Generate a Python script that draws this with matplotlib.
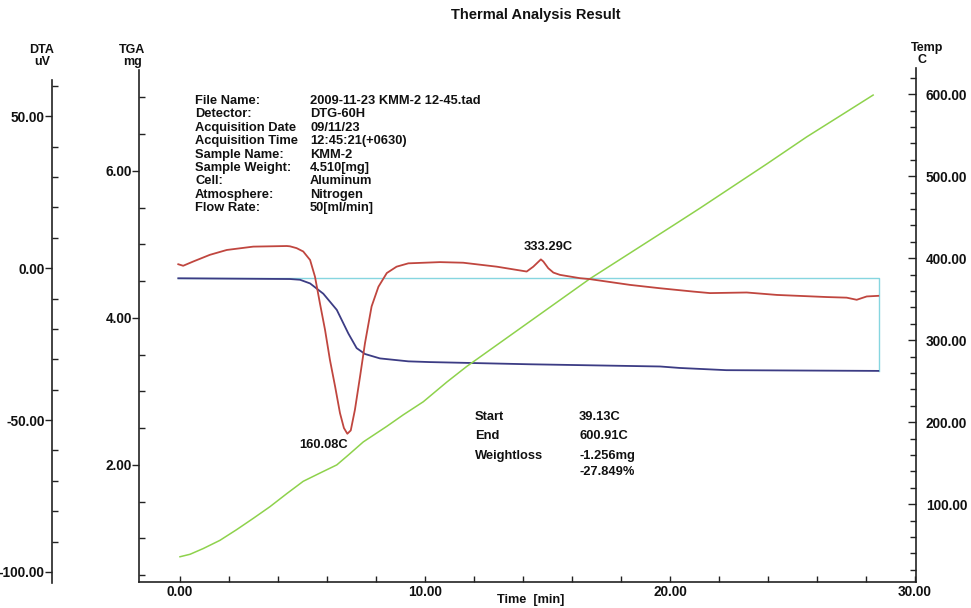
import matplotlib
matplotlib.use('Agg')
import matplotlib.pyplot as plt
from matplotlib.ticker import MultipleLocator, FormatStrFormatter

plt.rcParams['font.family'] = ['Liberation Sans', 'DejaVu Sans']

# ---------------- data ----------------
dta_time = [-0.07, 0.13, 0.54, 1.22, 1.91, 2.99, 4.36, 4.49, 4.76, 5.03, 5.31, 5.51, 5.71,
            5.92, 6.12, 6.33, 6.53, 6.69, 6.83, 6.97, 7.14, 7.35, 7.55, 7.82, 8.10,
            8.44, 8.84, 9.32, 10.61, 11.56, 12.93, 14.15, 14.42, 14.73, 14.83, 15.03,
            15.24, 15.51, 16.33, 16.73, 18.37, 19.59, 20.95, 21.63, 23.13, 24.36,
            26.40, 27.21, 27.62, 28.03, 28.50]
dta_uv = [1.3, 0.8, 2.2, 4.4, 6.0, 7.1, 7.3, 7.2, 6.6, 5.5, 2.7, -2.8, -11.5,
          -20.3, -30.2, -38.9, -47.7, -52.6, -54.5, -53.4, -46.6, -35.6, -24.7, -12.6, -6.1,
          -1.6, 0.5, 1.6, 2.0, 1.8, 0.5, -1.1, 0.5, 2.9, 2.2, 0.0,
          -1.45, -2.2, -3.3, -3.6, -5.5, -6.6, -7.7, -8.2, -8.0, -8.8,
          -9.5, -9.7, -10.4, -9.3, -9.1]

tga_time = [-0.07, 4.49, 4.90, 5.31, 5.85, 6.40, 6.87, 7.21, 7.55, 8.16, 9.32,
            10.2, 14.3, 19.6, 20.4, 22.3, 28.5]
tga_mg = [4.54, 4.53, 4.52, 4.47, 4.33, 4.11, 3.79, 3.59, 3.51, 3.45, 3.41,
          3.40, 3.37, 3.34, 3.32, 3.29, 3.28]

temp_time = [0.0, 0.41, 0.95, 1.63, 2.31, 3.0, 3.67, 4.36, 5.03, 5.71, 6.40, 6.87,
             7.48, 8.44, 9.11, 9.93, 10.89, 11.7, 16.73, 20.13, 21.22, 23.95, 25.58,
             27.07, 28.29]
temp_c = [36, 39, 46, 56, 69, 83, 97, 113, 128, 138, 148, 160,
          176, 195, 209, 225, 249, 268, 375, 440, 461, 515, 548,
          576, 599]

step_time = [-0.07, 28.53, 28.53]
step_mg = [4.55, 4.55, 3.28]

dta_ticks = [-100, -50, 0, 50]
tga_ticks = [2, 4, 6]
temp_ticks = [100, 200, 300, 400, 500, 600]
time_ticks = [0, 10, 20, 30]

info_labels = ["File Name:", "Detector:", "Acquisition Date", "Acquisition Time",
               "Sample Name:", "Sample Weight:", "Cell:", "Atmosphere:", "Flow Rate:"]
info_values = ["2009-11-23 KMM-2 12-45.tad", "DTG-60H", "09/11/23", "12:45:21(+0630)",
               "KMM-2", "4.510[mg]", "Aluminum", "Nitrogen", "50[ml/min]"]
result_labels = ["Start", "End", "Weightloss", ""]
result_values = ["39.13C", "600.91C", "-1.256mg", "-27.849%"]

peak1 = (6.83, -54.5, "160.08C")
peak2 = (14.73, 2.9, "333.29C")

# ---------------- figure ----------------
W, H = 971, 608
fig = plt.figure(figsize=(W / 100, H / 100), dpi=100)
fig.patch.set_facecolor('white')

def fx(px):
    return px / W

def fy(py):
    return 1 - py / H

ax = fig.add_axes([fx(139), fy(582), fx(916) - fx(139), fy(68) - fy(582)])
ax_t = ax.twinx()
ax_d = ax.twinx()

TXT = dict(color='#111111', fontweight='bold')
LINE = '#222222'
TICK_FS = 9.8
INFO_FS = 9.3

ax.set_xlim(-1.673, 30.04)
ax.set_ylim(0.408, 7.401)
ax_t.set_ylim(5.2, 632)
ax_d.set_ylim(-103.3, 65.9)

# spines
for a in (ax, ax_t, ax_d):
    for s in a.spines.values():
        s.set_visible(False)
        s.set_color(LINE)
        s.set_linewidth(1.2)
ax.spines['left'].set_visible(True)
ax.spines['bottom'].set_visible(True)
ax.spines['left'].set_bounds(0.408, 7.37)
ax_t.spines['right'].set_visible(True)
ax_d.spines['left'].set_visible(True)
ax_d.spines['left'].set_position(('axes', (52 - 139) / (916 - 139)))
ax_d.spines['left'].set_bounds(-103.6, 62)
ax_d.yaxis.set_label_position('left')
ax_d.yaxis.set_ticks_position('left')

# ticks
ax.xaxis.set_major_locator(plt.FixedLocator(time_ticks))
ax.xaxis.set_minor_locator(MultipleLocator(2))
ax.xaxis.set_major_formatter(FormatStrFormatter('%.2f'))
ax.tick_params(axis='x', which='both', direction='in', length=4, width=1, color=LINE,
               pad=2, labelsize=TICK_FS)

ax.yaxis.set_major_locator(plt.FixedLocator(tga_ticks))
ax.yaxis.set_minor_locator(MultipleLocator(0.5))
ax.yaxis.set_major_formatter(FormatStrFormatter('%.2f'))
ax.tick_params(axis='y', which='major', direction='out', length=5, width=1, color=LINE,
               pad=0.3, labelsize=TICK_FS)
ax.tick_params(axis='y', which='minor', direction='in', length=4, width=1, color=LINE)

ax_d.yaxis.set_major_locator(plt.FixedLocator(dta_ticks))
ax_d.yaxis.set_minor_locator(MultipleLocator(10))
ax_d.yaxis.set_major_formatter(FormatStrFormatter('%.2f'))
ax_d.tick_params(axis='y', which='major', direction='out', length=5, width=1, color=LINE,
                 pad=0.3, labelsize=TICK_FS, left=True, right=False, labelleft=True,
                 labelright=False)
ax_d.tick_params(axis='y', which='minor', direction='in', length=4, width=1, color=LINE,
                 left=True, right=False)

ax_t.yaxis.set_major_locator(plt.FixedLocator(temp_ticks))
ax_t.yaxis.set_minor_locator(MultipleLocator(20))
ax_t.yaxis.set_major_formatter(FormatStrFormatter('%.2f'))
ax_t.tick_params(axis='y', which='major', direction='in', length=6, width=1, color=LINE,
                 pad=7, labelsize=TICK_FS)
ax_t.tick_params(axis='y', which='minor', direction='in', length=4, width=1, color=LINE)

for a in (ax, ax_t, ax_d):
    for lab in a.get_xticklabels() + a.get_yticklabels():
        lab.set_fontweight('bold')
        lab.set_color('#111111')

# ---------------- curves ----------------
ax.plot(step_time, step_mg, color='#86d6e0', lw=1.0, zorder=2)
ax.plot(tga_time, tga_mg, color='#3c3c84', lw=1.3, zorder=3)
ax_t.plot(temp_time, temp_c, color='#8ed24c', lw=1.1)
ax_d.plot(dta_time, dta_uv, color='#c0463f', lw=1.3)

ax_d.annotate(peak1[2], xy=(peak1[0], peak1[1]), xytext=(-17, -8),
              textcoords='offset points', ha='center', va='center', fontsize=INFO_FS, **TXT)
ax_d.annotate(peak2[2], xy=(peak2[0], peak2[1]), xytext=(5, 9),
              textcoords='offset points', ha='center', va='center', fontsize=INFO_FS, **TXT)

# ---------------- texts ----------------
fig.text(fx(536), fy(15), "Thermal Analysis Result", ha='center', va='center', fontsize=10.5, **TXT)
fig.text(fx(42), fy(50), "DTA", ha='center', va='center', fontsize=9, **TXT)
fig.text(fx(42), fy(62), "uV", ha='center', va='center', fontsize=9, **TXT)
fig.text(fx(132), fy(50), "TGA", ha='center', va='center', fontsize=9, **TXT)
fig.text(fx(132), fy(62), "mg", ha='center', va='center', fontsize=9, **TXT)
fig.text(fx(927), fy(48), "Temp", ha='center', va='center', fontsize=9, **TXT)
fig.text(fx(922), fy(60), "C", ha='center', va='center', fontsize=9, **TXT)
fig.text(fx(531), fy(600), "Time  [min]", ha='center', va='center', fontsize=9.2, **TXT)

for i, (lab, val) in enumerate(zip(info_labels, info_values)):
    y = 101 + i * 13.4
    fig.text(fx(195), fy(y), lab, ha='left', va='center', fontsize=INFO_FS, **TXT)
    fig.text(fx(310), fy(y), val, ha='left', va='center', fontsize=INFO_FS, **TXT)

res_y = [416.7, 435.7, 455.7, 472.3]
for lab, val, y in zip(result_labels, result_values, res_y):
    if lab:
        fig.text(fx(475), fy(y), lab, ha='left', va='center', fontsize=INFO_FS, **TXT)
    fig.text(fx(579), fy(y), val, ha='left', va='center', fontsize=INFO_FS, **TXT)

fig.savefig('out.png', dpi=100, facecolor='white')
